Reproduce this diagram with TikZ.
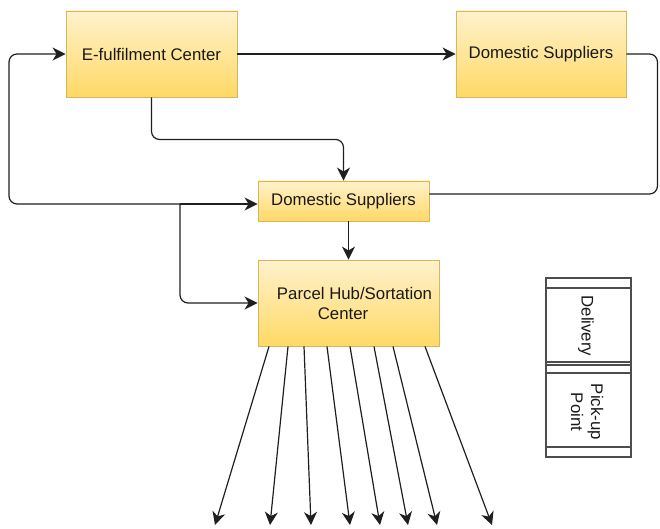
\documentclass[tikz,border=0pt]{standalone}
\usepackage{fontspec}
\setmainfont{Liberation Sans}
\usetikzlibrary{arrows.meta}
\definecolor{boxtop}{HTML}{FFF2CC}
\definecolor{boxbot}{HTML}{FFD966}
\definecolor{boxline}{HTML}{D6B656}
\definecolor{wire}{HTML}{1F1F1F}
\definecolor{laneline}{HTML}{4D4D4D}
\begin{document}
\begin{tikzpicture}[x=1pt, y=-1pt,
  box/.style={draw=boxline, line width=0.9pt, top color=boxtop, bottom color=boxbot,
    inner sep=0pt, font=\fontsize{16.8}{20}\selectfont, text=black!90},
  arr/.style={draw=wire, line width=1.2pt, -{Stealth[length=13pt, width=13pt, inset=4pt]}},
  wireline/.style={draw=wire, line width=1.2pt},
  lane/.style={draw=laneline, line width=1.1pt},
  lbl/.style={inner sep=0pt, font=\fontsize{16.8}{20}\selectfont, text=black!90}]
\useasboundingbox (0,0) rectangle (660,529);

% process boxes
\node[box, minimum width=171pt, minimum height=86pt] (ef)  at (151.5,54)  {E-fulfilment Center};
\node[box, minimum width=170pt, minimum height=86pt] (ds1) at (541,54)    {Domestic Suppliers};
\node[box, minimum width=171pt, minimum height=40pt] (ds2) at (343.5,201) {Domestic Suppliers};
\node[box, minimum width=181pt, minimum height=86pt, align=center] (hub) at (348.5,303)
  {\hspace*{12pt}Parcel Hub/Sortation\\Center\hspace*{11pt}};

% connectors between the boxes
\draw[arr] (ef.east) -- (ds1.west);
\draw[arr, rounded corners=8pt] (ef.south) -- ++(0,42) -| (ds2.north);
\draw[wireline, rounded corners=8pt] (ds1.east) -- ++(31,0) |- ([yshift=7pt]ds2.east);
\draw[arr] (hub.north |- ds2.south) -- (hub.north);

% left feed loop
\coordinate (fork) at (180,204);
\coordinate (loop) at (9,204);
\draw[arr, rounded corners=8pt] (fork) -- (loop) |- (ef.west);
\draw[arr] (fork) -- (ds2.west |- fork);
\draw[arr, rounded corners=8pt] (fork) |- (hub.west);

% outgoing deliveries from the hub
\foreach \i/\dx/\tx in {1/-79.5/215, 2/-60.5/270, 3/-44.5/311, 4/-21.5/350,
                        5/1.5/380, 6/25.5/408, 7/44.5/437, 8/76.5/492} {
  \coordinate (t\i) at (\tx,525);
  \draw[arr] ([xshift=\dx pt]hub.south) -- (t\i);
}

% legend lanes
\draw[lane] (546,278) rectangle (631,365);
\draw[lane] (546,288) -- (631,288);
\draw[lane] (546,362) rectangle (631,457);
\draw[lane] (546,373) -- (631,373);
\draw[lane] (546,447) -- (631,447);
\node[lbl, rotate=-90] (dlv) at (586,326) {Delivery};
\node[lbl, rotate=-90, align=center] (pkp) at (587,412) {Pick-up\\Point};
\end{tikzpicture}
\end{document}
